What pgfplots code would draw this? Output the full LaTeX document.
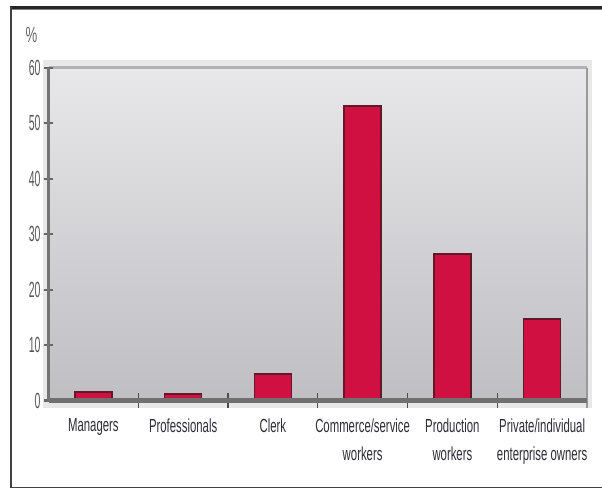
\documentclass[border=0pt]{standalone}
\usepackage{fontspec}
\setmainfont{Liberation Sans}[FakeStretch=0.6]
\newfontfamily\tickfont{Liberation Sans}[FakeStretch=0.48]
\usepackage{pgfplots}
\pgfplotsset{compat=1.18}
\definecolor{barred}{RGB}{208,16,64}
\definecolor{baredge}{RGB}{95,25,40}
\definecolor{bgtop}{RGB}{232,232,234}
\definecolor{bgbot}{RGB}{190,190,195}
\definecolor{txt}{RGB}{45,45,55}
\begin{document}
\begin{tikzpicture}
\useasboundingbox (0,0) rectangle (602bp,489bp);
\fill[white] (0,0) rectangle (602bp,489bp);
\draw[line width=3bp, black!85] (10bp,481.5bp) -- (602bp,481.5bp);
\draw[line width=1.5bp, black!50] (11bp,479.5bp) -- (602bp,479.5bp);
\draw[line width=1.8bp, black!75] (11bp,482bp) -- (11bp,1.5bp) -- (602bp,1.5bp);
\node[font=\fontsize{22}{22}\selectfont, text=black!60] at (31.5bp,454bp) {\%};
\fill[black!9] (43bp,81bp) rectangle (592bp,429bp);
\begin{axis}[
  at={(48.5bp,88.5bp)}, anchor=south west,
  scale only axis, width=538.5bp, height=333bp,
  xmin=-0.5, xmax=5.5, ymin=0, ymax=60,
  ybar, bar width=37bp,
  clip=false, axis on top,
  axis x line*=bottom, axis y line*=left,
  x axis line style={line width=4.5bp, black!56},
  y axis line style={line width=2.5bp, black!55},
  axis background/.style={top color=bgtop, bottom color=bgbot},
  ytick={0,10,...,60},
  tick align=center,
  ytick style={line width=2bp, black!60},
  major tick length=9bp,
  minor tick length=15bp,
  /pgf/number format/assume math mode=true,
  yticklabel style={font=\tickfont\fontsize{22}{22}\selectfont, text=black!65},
  xtick={0,1,2,3,4,5},
  xticklabels={Managers,Professionals,Clerk,Commerce/service\\workers,Production\\workers,Private/individual\\enterprise owners},
  xtick style={draw=none},
  minor xtick={0.5,1.5,2.5,3.5,4.5},
  minor x tick style={draw=black!70, line width=1.2bp},
  xticklabel style={align=center, font=\fontsize{19}{28}\selectfont, text=txt, anchor=north, yshift=-10bp},
]
\addplot[fill=barred, draw=baredge, line width=1.5bp] coordinates {(0,1.5) (1,1.2) (2,4.8) (3,53.1) (4,26.4) (5,14.7)};
\draw[line width=2.5bp, black!30] (rel axis cs:0,1) -- (rel axis cs:1,1);
\draw[line width=1.2bp, black!40] (rel axis cs:1,1) -- (rel axis cs:1,0) -- ([yshift=-7bp]rel axis cs:1,0);
\end{axis}
\end{tikzpicture}
\end{document}
